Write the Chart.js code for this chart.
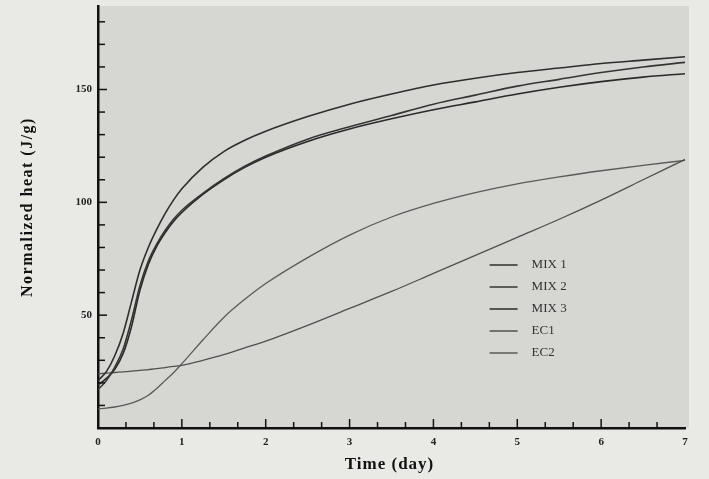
<!DOCTYPE html>
<html lang="en">
<head>
    <meta charset="UTF-8">
    <title>Normalized heat</title>
    <style>
        body {
            margin: 0;
            background: #e9e9e6;
            overflow: hidden;
        }
        .chart-container {
            width: 709px;
            height: 479px;
        }
        canvas {
            display: block;
        }
    </style>
</head>
<body>
    <div class="chart-container">
        <canvas id="heatChart" width="709" height="479"></canvas>
    </div>

    <script src="https://cdn.jsdelivr.net/npm/chart.js"></script>
    <script>
        // time axis (day), shared by every curve
        const days = [0, 0.1, 0.2, 0.3, 0.4, 0.5, 0.6, 0.7, 0.8, 0.9, 1, 1.25, 1.5, 1.75, 2, 2.5, 3, 3.5, 4, 4.5, 5, 5.5, 6, 6.5, 7];

        // normalized heat (J/g)
        const mix1 = [21, 25, 32, 42, 56, 70, 80, 88, 95, 101, 106, 115.5, 122.5, 127.5, 131.5, 138, 143.5, 148, 152, 155, 157.5, 159.5, 161.5, 163, 164.5];
        const mix2 = [17, 21, 27, 35, 48, 63, 74, 81.5, 87.5, 92.5, 96.5, 104, 110.5, 116, 120.5, 128, 133.5, 138.5, 143.5, 147.5, 151.5, 154.5, 157.5, 160, 162];
        const mix3 = [19, 22, 26, 33, 45, 61, 72.5, 80.5, 86.5, 91.5, 95.5, 103.5, 110, 115.5, 120, 127, 132.5, 137, 141, 144.5, 148, 151, 153.5, 155.5, 157];
        const ec1 = [24, 24.3, 24.6, 24.9, 25.2, 25.5, 25.9, 26.3, 26.8, 27.3, 27.8, 30, 32.5, 35.5, 38.5, 45.5, 53, 60.5, 68.5, 76.5, 84.5, 92.5, 101, 110, 119];
        const ec2 = [8.5, 8.8, 9.3, 10, 11, 12.5, 14.5, 17.5, 21, 24.5, 28.5, 39, 49, 57, 64, 75.5, 85.5, 93.5, 99.5, 104.3, 108.2, 111.3, 114, 116.4, 118.6];

        const seriesNames = ['MIX 1', 'MIX 2', 'MIX 3', 'EC1', 'EC2'];
        const seriesValues = [mix1, mix2, mix3, ec1, ec2];
        const seriesColors = ['#2e2e2e', '#353535', '#2a2a2a', '#505050', '#5a5a5a'];

        const serif = "'Liberation Serif', 'DejaVu Serif', serif";

        // gray plot panel, inner minor/major ticks, axis titles, legend
        const paperPlugin = {
            id: 'paper',
            beforeDraw(chart) {
                const {ctx, chartArea: a} = chart;
                ctx.save();
                ctx.fillStyle = '#d6d6d3';
                ctx.fillRect(a.left, a.top, a.right - a.left + 4, a.bottom - a.top);
                ctx.restore();
            },
            afterDraw(chart) {
                const {ctx, chartArea: a} = chart;
                const xs = chart.scales.x, ys = chart.scales.y;
                ctx.save();
                ctx.strokeStyle = '#111';
                ctx.lineWidth = 1.5;
                for (let v = 10; v <= 180; v += 10) {
                    const y = ys.getPixelForValue(v);
                    const len = v % 50 === 0 ? 9 : 7;
                    ctx.beginPath();
                    ctx.moveTo(a.left, y);
                    ctx.lineTo(a.left + len, y);
                    ctx.stroke();
                }
                for (let k = 1; k <= 20; k++) {
                    const x = xs.getPixelForValue(k / 3);
                    const len = k % 3 === 0 ? 9 : 6;
                    ctx.beginPath();
                    ctx.moveTo(x, a.bottom);
                    ctx.lineTo(x, a.bottom - len);
                    ctx.stroke();
                }

                // axis titles (letter-spaced like the print)
                ctx.fillStyle = '#111';
                ctx.textAlign = 'center';
                ctx.textBaseline = 'middle';
                ctx.letterSpacing = '1px';
                ctx.font = 'bold 17px ' + serif;
                ctx.fillText('Time (day)', (a.left + a.right) / 2 - 2, 465);
                ctx.save();
                ctx.translate(28, (a.top + a.bottom) / 2 - 10);
                ctx.rotate(-Math.PI / 2);
                ctx.letterSpacing = '1.5px';
                ctx.font = 'bold 16px ' + serif;
                ctx.fillText('Normalized heat (J/g)', 0, 0);
                ctx.restore();
                ctx.letterSpacing = '0px';

                // legend
                const lx = xs.getPixelForValue(4.67);
                let ly = a.top + 259;
                ctx.textAlign = 'left';
                ctx.font = '13px ' + serif;
                chart.data.datasets.forEach(ds => {
                    ctx.strokeStyle = ds.borderColor;
                    ctx.lineWidth = 1.5;
                    ctx.beginPath();
                    ctx.moveTo(lx, ly);
                    ctx.lineTo(lx + 28, ly);
                    ctx.stroke();
                    ctx.fillStyle = '#333';
                    ctx.fillText(ds.label, lx + 42, ly);
                    ly += 22;
                });
                ctx.restore();
            }
        };

        const datasets = seriesNames.map((name, i) => ({
            label: name,
            data: days.map((d, j) => ({x: d, y: seriesValues[i][j]})),
            borderColor: seriesColors[i],
            borderWidth: i < 3 ? 1.6 : 1.3,
            pointRadius: 0,
            cubicInterpolationMode: 'monotone',
            fill: false
        }));

        new Chart(document.getElementById('heatChart'), {
            type: 'line',
            data: {datasets: datasets},
            plugins: [paperPlugin],
            options: {
                responsive: false,
                animation: false,
                devicePixelRatio: 1,
                layout: {padding: {top: 6, right: 24, left: 0, bottom: 0}},
                plugins: {
                    legend: {display: false},
                    tooltip: {enabled: false}
                },
                scales: {
                    x: {
                        type: 'linear',
                        min: 0,
                        max: 7,
                        ticks: {
                            stepSize: 1,
                            padding: 8,
                            color: '#222',
                            font: {family: serif, size: 11, weight: 'bold'}
                        },
                        grid: {display: false, drawTicks: false},
                        border: {display: true, color: '#111', width: 2.5},
                        afterFit(scale) { scale.height = 51; }
                    },
                    y: {
                        min: 0,
                        max: 187,
                        ticks: {
                            stepSize: 50,
                            padding: 6,
                            color: '#222',
                            font: {family: serif, size: 11, weight: 'bold'},
                            callback: v => (v > 0 && v % 50 === 0) ? v : ''
                        },
                        grid: {display: false, drawTicks: false},
                        border: {display: true, color: '#111', width: 2.5},
                        afterFit(scale) {
                            scale.width = 98;
                            scale.paddingTop = 0;
                            scale.paddingBottom = 0;
                        }
                    }
                }
            }
        });
    </script>
</body>
</html>
